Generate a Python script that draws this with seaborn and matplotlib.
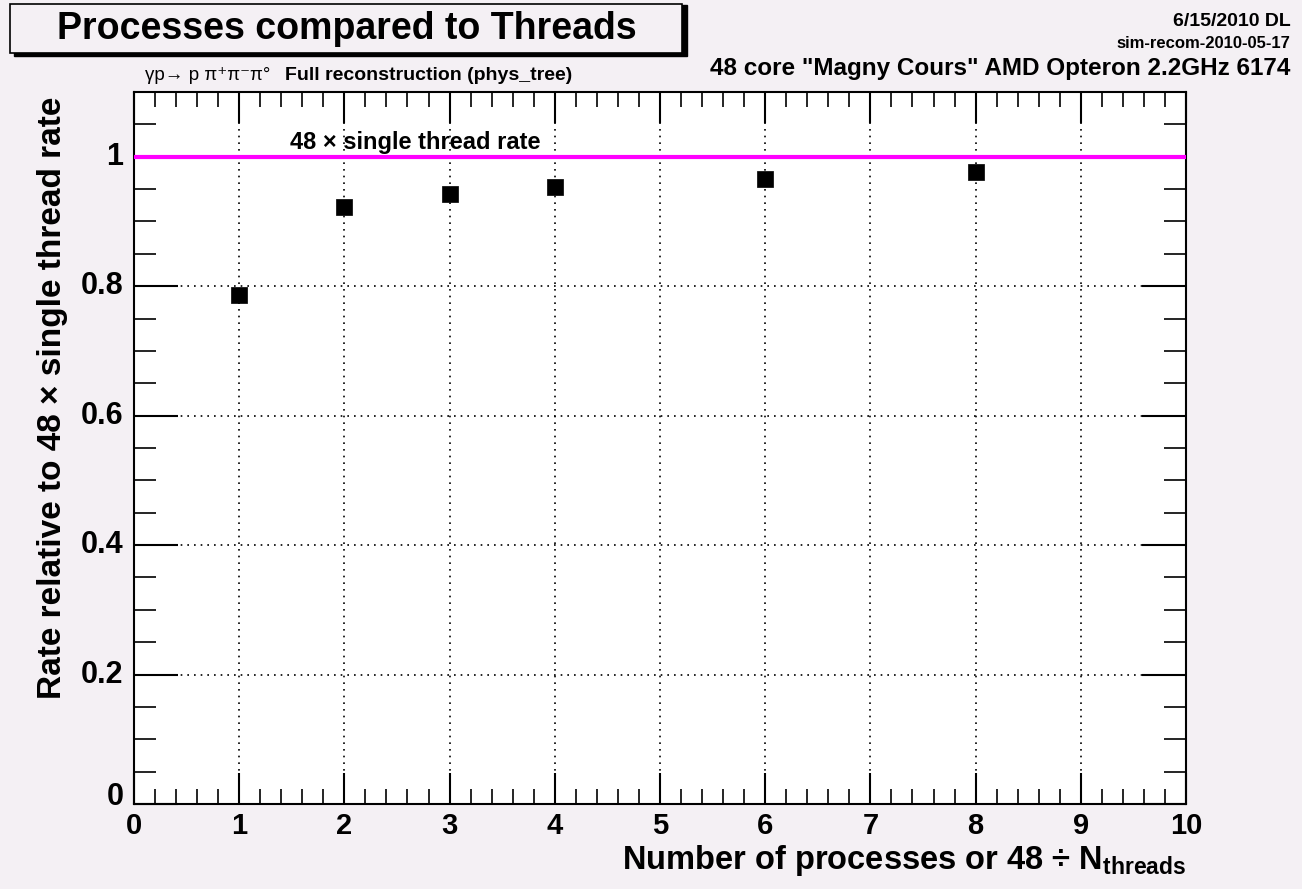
import numpy as np
import pandas as pd
import matplotlib
matplotlib.use("Agg")
import matplotlib.pyplot as plt
from matplotlib.patches import Rectangle
from matplotlib.ticker import MultipleLocator
import seaborn as sns

# data
nProcesses = [1, 2, 3, 4, 6, 8]
relativeRate = [0.787, 0.922, 0.942, 0.953, 0.965, 0.977]
referenceRate = 1.0

bg = "#f4f0f4"

sns.set_theme(style="white")
plt.rcParams['font.family'] = ['Liberation Sans', 'DejaVu Sans']
plt.rcParams['font.weight'] = 'bold'
plt.rcParams['text.color'] = 'black'
plt.rcParams['mathtext.fontset'] = 'custom'
plt.rcParams['mathtext.rm'] = 'Liberation Sans:bold'
plt.rcParams['mathtext.it'] = 'Liberation Sans:bold'
plt.rcParams['mathtext.bf'] = 'Liberation Sans:bold'

fig = plt.figure(figsize=(13.02, 8.89), dpi=100, facecolor=bg)
ax = fig.add_axes([0.1029, 0.0956, 0.8080, 0.8009])
ax.set_facecolor("white")

df = pd.DataFrame({'n': nProcesses, 'rate': relativeRate})

# reference line
ax.axhline(referenceRate, color="#ff00ff", lw=3, zorder=3)

sns.scatterplot(data=df, x='n', y='rate', marker='s', s=125, color='black',
                edgecolor='black', linewidth=0.5, ax=ax, zorder=4)

ax.set_xlim(0, 10)
ax.set_ylim(0, 1.1)
ax.xaxis.set_major_locator(MultipleLocator(1))
ax.xaxis.set_minor_locator(MultipleLocator(0.2))
ax.yaxis.set_major_locator(MultipleLocator(0.2))
ax.yaxis.set_minor_locator(MultipleLocator(0.05))
ax.set_xticklabels([])
ax.set_yticklabels([])

ax.tick_params(axis='x', which='major', direction='in', length=22, width=1.5,
               top=True, bottom=True, color='black', labelbottom=False)
ax.tick_params(axis='x', which='minor', direction='in', length=11, width=1.2,
               top=True, bottom=True, color='black')
ax.tick_params(axis='y', which='major', direction='in', length=32, width=1.5,
               left=True, right=True, color='black', labelleft=False)
ax.tick_params(axis='y', which='minor', direction='in', length=16, width=1.2,
               left=True, right=True, color='black')

for sp in ax.spines.values():
    sp.set_color('black')
    sp.set_linewidth(1.5)

ax.grid(True, which='major', color='black', linestyle=(0, (1, 3)), linewidth=1.2)
ax.set_axisbelow(True)

# tick labels (ROOT style)
for v in range(0, 11):
    ax.text(v, -0.013, str(v), ha='center', va='top', fontsize=21,
            fontweight='bold', clip_on=False)
for v in [0.2, 0.4, 0.6, 0.8]:
    ax.text(-0.1, v, '%.1f' % v, ha='right', va='center', fontsize=22,
            fontweight='bold', clip_on=False)
ax.text(-0.1, 1.0, '1', ha='right', va='center', fontsize=22,
        fontweight='bold', clip_on=False)
ax.text(-0.1, -0.012, '0', ha='right', va='bottom', fontsize=22,
        fontweight='bold', clip_on=False)

ax.set_xlabel('')
ax.set_ylabel('')
fig.text(0.9109, 0.0225, r'Number of processes or 48 $\div$ N$_{\mathrm{threads}}$',
         ha='right', va='baseline', fontsize=23.5, fontweight='bold')
fig.text(0.040, 0.552, u'Rate relative to 48 \u00d7 single thread rate', rotation=90,
         ha='center', va='center', fontsize=24, fontweight='bold')

ax.text(1.48, 1.022, u'48 \u00d7 single thread rate', ha='left', va='center',
        fontsize=17, fontweight='bold')

# title box with shadow
fig.patches.append(Rectangle((0.0105, 0.937), 0.517, 0.057, transform=fig.transFigure,
                             facecolor='black', edgecolor='black', zorder=1))
fig.patches.append(Rectangle((0.008, 0.940), 0.516, 0.055, transform=fig.transFigure,
                             facecolor=bg, edgecolor='black', lw=1.2, zorder=2))
fig.text(0.266, 0.967, 'Processes compared to Threads', ha='center', va='center',
         fontsize=27, fontweight='bold', zorder=3)

fig.text(0.991, 0.976, '6/15/2010 DL', ha='right', va='center', fontsize=14, fontweight='bold')
fig.text(0.991, 0.951, 'sim-recom-2010-05-17', ha='right', va='center', fontsize=12, fontweight='bold')
fig.text(0.991, 0.923, '48 core "Magny Cours" AMD Opteron 2.2GHz 6174', ha='right', va='center',
         fontsize=17.5, fontweight='bold')

fig.text(0.111, 0.915, u'\u03b3p\u2192 p \u03c0\u207a\u03c0\u207b\u03c0\u00b0', ha='left', va='center',
         fontsize=13.5, fontweight='normal', family=['Liberation Sans', 'DejaVu Sans'])
fig.text(0.219, 0.915, 'Full reconstruction (phys_tree)', ha='left', va='center',
         fontsize=14, fontweight='bold')

fig.savefig('out.png', dpi=100, facecolor=bg)
